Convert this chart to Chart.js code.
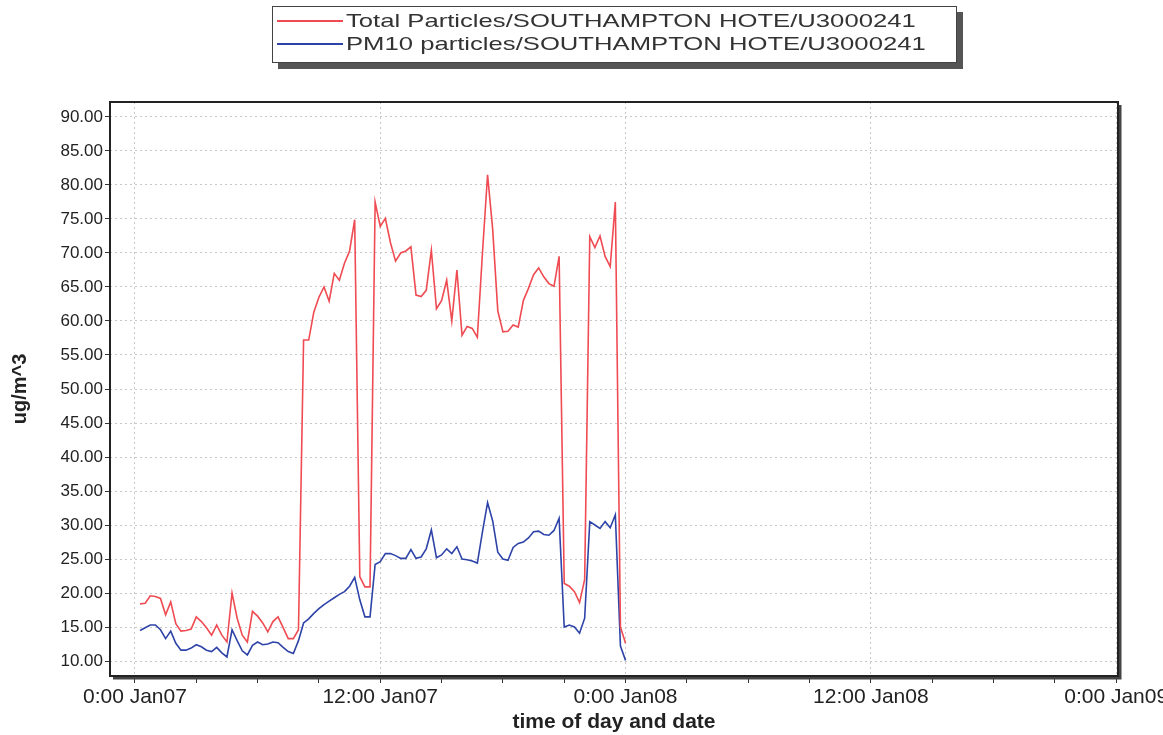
<!DOCTYPE html>
<html>
<head>
    <meta charset="UTF-8">
    <title>Particles - Southampton</title>
    <style>
        html, body { margin: 0; padding: 0; background: #fff; overflow: hidden; }
        #wrap { position: relative; width: 1163px; height: 735px; overflow: hidden; }
        #legend {
            position: absolute; left: 272px; top: 6px; width: 683px; height: 55px;
            border: 1px solid #444; background: #fff; box-shadow: 6px 6px 0 #555;
            font-family: "Liberation Sans", Arial, sans-serif; font-size: 19px; color: #333;
        }
        .row { position: absolute; left: 4px; height: 22px; }
        .row .swatch { position: absolute; left: 0; top: 10px; width: 66px; height: 2px; }
        .row .txt { position: absolute; left: 69px; top: 0; white-space: nowrap; transform: scaleX(1.35); transform-origin: left center; }
    </style>
</head>
<body>
<div id="wrap">
    <canvas id="myChart" width="1200" height="735"></canvas>
    <div id="legend"></div>
</div>

<script src="https://cdn.jsdelivr.net/npm/chart.js@4.4.1/dist/chart.umd.min.js"></script>
<script>
    // hours after 0:00 Jan07, 15 minute readings
    var hours = [
        0.25, 0.5, 0.75, 1, 1.25, 1.5, 1.75, 2, 2.25, 2.5, 2.75, 3,
        3.25, 3.5, 3.75, 4, 4.25, 4.5, 4.75, 5, 5.25, 5.5, 5.75, 6,
        6.25, 6.5, 6.75, 7, 7.25, 7.5, 7.75, 8, 8.25, 8.5, 8.75, 9,
        9.25, 9.5, 9.75, 10, 10.25, 10.5, 10.75, 11, 11.25, 11.5, 11.75, 12,
        12.25, 12.5, 12.75, 13, 13.25, 13.5, 13.75, 14, 14.25, 14.5, 14.75, 15,
        15.25, 15.5, 15.75, 16, 16.25, 16.5, 16.75, 17, 17.25, 17.5, 17.75, 18,
        18.25, 18.5, 18.75, 19, 19.25, 19.5, 19.75, 20, 20.25, 20.5, 20.75, 21,
        21.25, 21.5, 21.75, 22, 22.25, 22.5, 22.75, 23, 23.25, 23.5, 23.75, 24
    ];
    var totalParticles = [
        18.4, 18.5, 19.6, 19.5, 19.2, 16.8, 18.7, 15.5, 14.4, 14.5, 14.7, 16.5,
        15.8, 14.9, 13.8, 15.3, 13.8, 12.8, 20.0, 16.3, 13.8, 12.8, 17.3, 16.6,
        15.6, 14.3, 15.8, 16.5, 14.9, 13.3, 13.3, 14.6, 57.2, 57.2, 61.3, 63.5,
        65.0, 62.9, 67.0, 66.0, 68.5, 70.3, 74.9, 22.4, 20.9, 20.9, 77.5, 73.9,
        75.1, 71.5, 68.8, 70.0, 70.3, 70.9, 63.8, 63.6, 64.5, 70.4, 61.8, 63.0,
        66.0, 60.0, 67.5, 57.9, 59.2, 58.9, 57.6, 70.0, 81.5, 73.5, 61.5, 58.4,
        58.5, 59.4, 59.1, 63.0, 64.8, 66.8, 67.8, 66.5, 65.5, 65.1, 69.5, 21.4,
        21.0, 20.2, 18.6, 22.0, 72.4, 70.8, 72.5, 69.5, 68.0, 77.5, 15.0, 12.6
    ];
    var pm10 = [
        14.5, 14.9, 15.3, 15.3, 14.6, 13.3, 14.4, 12.6, 11.6, 11.6, 11.9, 12.4,
        12.1, 11.6, 11.4, 12.0, 11.2, 10.6, 14.6, 13.0, 11.5, 10.9, 12.3, 12.8,
        12.4, 12.5, 12.8, 12.7, 12.0, 11.4, 11.1, 13.0, 15.6, 16.2, 17.0, 17.7,
        18.3, 18.8, 19.3, 19.8, 20.2, 21.0, 22.3, 19.0, 16.5, 16.5, 24.2, 24.6,
        25.8, 25.8, 25.5, 25.1, 25.1, 26.4, 25.1, 25.3, 26.5, 29.3, 25.2, 25.6,
        26.5, 25.8, 26.8, 25.0, 24.9, 24.7, 24.4, 29.0, 33.3, 30.6, 26.0, 25.0,
        24.8, 26.7, 27.3, 27.5, 28.1, 29.0, 29.1, 28.6, 28.5, 29.2, 31.0, 15.0,
        15.3, 15.0, 14.1, 16.3, 30.5, 30.0, 29.5, 30.5, 29.6, 31.5, 12.2, 10.1
    ];
    var seriesNames = ['Total Particles/SOUTHAMPTON HOTE/U3000241', 'PM10 particles/SOUTHAMPTON HOTE/U3000241'];
    var seriesColors = ['#ef4b52', '#2e43a8'];
    var yTickValues = [10, 15, 20, 25, 30, 35, 40, 45, 50, 55, 60, 65, 70, 75, 80, 85, 90];
    var xTickHours = [0, 12, 24, 36, 48];
    var xTickLabels = ['0:00 Jan07', '12:00 Jan07', '0:00 Jan08', '12:00 Jan08', '0:00 Jan09'];

    // html legend box
    var legendHtml = '';
    seriesNames.forEach(function(name, i) {
        legendHtml += '<div class="row" style="top:' + (3 + i * 23) + 'px"><span class="swatch" style="background:' + seriesColors[i] + '"></span><span class="txt">' + name + '</span></div>';
    });
    document.getElementById('legend').innerHTML = legendHtml;

    function points(values) {
        return values.map(function(v, i) { return {x: hours[i], y: v}; });
    }

    var framePlugin = {
        id: 'frame',
        afterDraw: function(chart) {
            var ctx = chart.ctx, a = chart.chartArea;
            ctx.save();
            ctx.strokeStyle = '#444';
            ctx.lineWidth = 3;
            ctx.beginPath();
            ctx.moveTo(a.right + 2, a.top + 3);
            ctx.lineTo(a.right + 2, a.bottom + 2);
            ctx.lineTo(a.left + 3, a.bottom + 2);
            ctx.stroke();
            ctx.strokeStyle = '#222';
            ctx.lineWidth = 2;
            ctx.strokeRect(a.left, a.top, a.right - a.left, a.bottom - a.top);
            ctx.restore();
        }
    };

    Chart.defaults.font.family = '"Liberation Sans", Arial, sans-serif';
    Chart.defaults.color = '#222';

    new Chart('myChart', {
        type: 'line',
        data: {
            datasets: [{
                label: seriesNames[0],
                data: points(totalParticles),
                borderColor: seriesColors[0],
                borderWidth: 1.6,
                pointRadius: 0,
                tension: 0
            }, {
                label: seriesNames[1],
                data: points(pm10),
                borderColor: seriesColors[1],
                borderWidth: 1.6,
                pointRadius: 0,
                tension: 0
            }]
        },
        options: {
            responsive: false,
            animation: false,
            layout: { padding: { top: 102, left: 0, right: 82, bottom: 0 } },
            plugins: { legend: { display: false }, tooltip: { enabled: false } },
            scales: {
                x: {
                    type: 'linear',
                    min: -1.22,
                    max: 48.09,
                    afterBuildTicks: function(s) {
                        var t = [];
                        for (var h = 0; h <= 48; h += 3) t.push({value: h});
                        s.ticks = t;
                    },
                    afterFit: function(s) { s.height = 59; },
                    ticks: {
                        autoSkip: false,
                        maxRotation: 0,
                        padding: 2,
                        font: { size: 21 },
                        callback: function(v) {
                            var i = xTickHours.indexOf(v);
                            return i >= 0 ? xTickLabels[i] : '';
                        }
                    },
                    grid: {
                        color: function(c) { return c.tick && c.tick.value % 12 === 0 ? '#c8c8c8' : 'rgba(0,0,0,0)'; },
                        tickColor: '#333',
                        tickLength: 7,
                        lineWidth: 1
                    },
                    border: { display: false, dash: [2, 3] },
                    title: {
                        display: true,
                        text: 'time of day and date',
                        font: { size: 21, weight: 'bold' },
                        padding: { top: 0, bottom: 0 }
                    }
                },
                y: {
                    min: 7.8,
                    max: 92.2,
                    afterBuildTicks: function(s) {
                        var t = [];
                        for (var v = 10; v <= 90; v += 2.5) t.push({value: v});
                        s.ticks = t;
                    },
                    afterFit: function(s) { s.width = 110; },
                    ticks: {
                        padding: 2,
                        font: { size: 17 },
                        callback: function(v) {
                            return yTickValues.indexOf(v) >= 0 ? v.toFixed(2) : '';
                        }
                    },
                    grid: {
                        color: function(c) { return c.tick && yTickValues.indexOf(c.tick.value) >= 0 ? '#c8c8c8' : 'rgba(0,0,0,0)'; },
                        tickColor: '#333',
                        tickLength: 5,
                        lineWidth: 1
                    },
                    border: { display: false, dash: [2, 3] },
                    title: {
                        display: true,
                        text: 'ug/m^3',
                        font: { size: 20, weight: 'bold' },
                        padding: { top: 8, bottom: 0 }
                    }
                }
            }
        },
        plugins: [framePlugin]
    });
</script>
</body>
</html>
